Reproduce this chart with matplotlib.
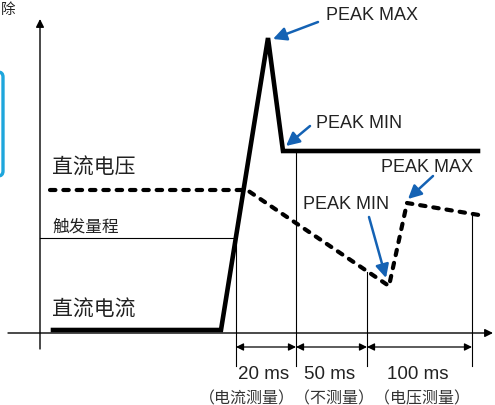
import matplotlib.pyplot as plt
from matplotlib.patches import FancyBboxPatch

# schematic coordinates (pixels, y grows downward)
current_x = [53, 221, 268, 283, 478]
current_y = [331, 331, 39, 152, 152]

voltage_x = [50, 247, 389, 407, 479]
voltage_y = [191, 191, 287, 204, 216]

trigger_y = 239
trigger_x_end = 236

window_edges = [236, 296, 367, 472]
window_tops = [239, 152, 273, 216]
window_ms = ['20 ms', '50 ms', '100 ms']
window_note = '（电流测量）（不测量）（电压测量）'

peak_labels = ['PEAK MAX', 'PEAK MIN', 'PEAK MIN', 'PEAK MAX']
peak_text_xy = [(326, 15), (316, 124), (303, 205), (381, 168)]
peak_arrow_from = [(318, 23), (310, 127), (369, 218), (433, 177)]
peak_arrow_to = [(273, 40), (286, 147), (386, 279), (408, 200)]

cjk = ['Noto Sans CJK SC', 'DejaVu Sans']
latin = 'Liberation Sans'
blue = '#1462b4'

fig = plt.figure(figsize=(4.95, 4.06), dpi=100)
ax = fig.add_axes([0, 0, 1, 1])
ax.set_xlim(0, 495)
ax.set_ylim(406, 0)
ax.axis('off')

# bits of the surrounding page on the left edge
ax.text(1, 10, '除', family=cjk, fontsize=10.5, ha='left', va='center', color='#222222')
ax.add_patch(FancyBboxPatch((-30, 73), 33, 104, boxstyle='round,pad=0,rounding_size=5',
                            fc='white', ec='#1ea6dc', lw=2.4))

# axes
ax.annotate('', xy=(493, 334), xytext=(8, 334),
            arrowprops=dict(arrowstyle='-|>', color='black', lw=1, mutation_scale=12,
                            shrinkA=0, shrinkB=0))
ax.annotate('', xy=(40, 20), xytext=(40, 350),
            arrowprops=dict(arrowstyle='-|>', color='black', lw=1, mutation_scale=12,
                            shrinkA=0, shrinkB=0))

# trigger level
ax.plot([40, trigger_x_end], [trigger_y, trigger_y], color='black', lw=0.8)

# window boundaries
for x, top in zip(window_edges, window_tops):
    ax.plot([x, x], [top, 367], color='black', lw=0.8)

for i in range(len(window_ms)):
    x0, x1 = window_edges[i], window_edges[i + 1]
    ax.annotate('', xy=(x1, 348), xytext=(x0, 348),
                arrowprops=dict(arrowstyle='<|-|>', color='black', lw=0.9,
                                mutation_scale=11, shrinkA=0, shrinkB=0))
    ax.text((x0 + x1) / 2 - 2, 375, window_ms[i], family=latin, fontsize=13.5,
            ha='center', va='center', color='#222222')

ax.text(335, 399, window_note, family=cjk, fontsize=11.5, ha='center', va='center',
        color='#333333')

# waveforms
ax.plot(current_x, current_y, color='black', lw=3.3, solid_joinstyle='miter')
ax.plot(voltage_x, voltage_y, color='black', lw=3, dashes=(1.3, 1.9),
        dash_capstyle='round')

# labels
ax.text(52, 168, '直流电压', family=cjk, fontsize=15, ha='left', va='center', color='#222222')
ax.text(52, 227, '触发量程', family=cjk, fontsize=12, ha='left', va='center', color='#222222')
ax.text(52, 310, '直流电流', family=cjk, fontsize=15, ha='left', va='center', color='#222222')

for label, txy, a0, a1 in zip(peak_labels, peak_text_xy, peak_arrow_from, peak_arrow_to):
    ax.text(txy[0], txy[1], label, family=latin, fontsize=13, ha='left', va='center',
            color='#222222')
    ax.annotate('', xy=a1, xytext=a0,
                arrowprops=dict(arrowstyle='-|>', color=blue, lw=1.8, mutation_scale=20,
                                shrinkA=0, shrinkB=0))

fig.savefig('out.png', dpi=100)
